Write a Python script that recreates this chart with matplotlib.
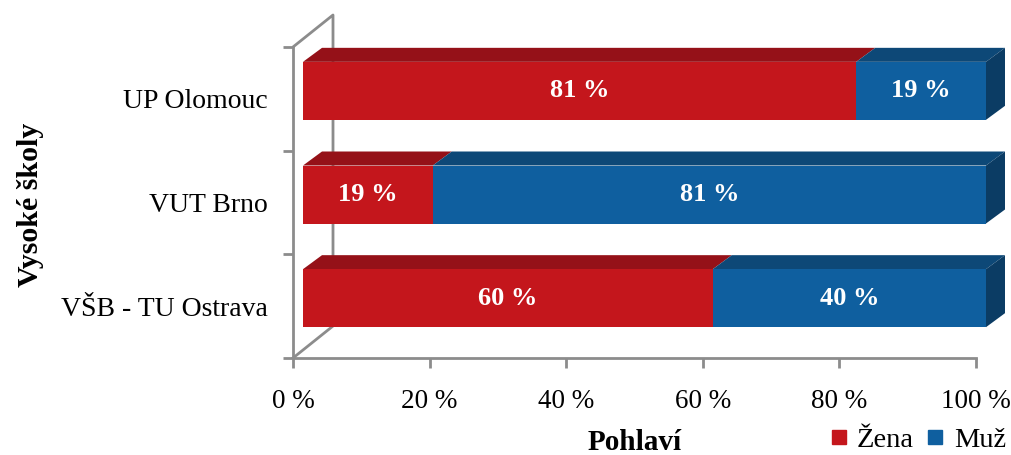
import matplotlib
matplotlib.use("Agg")
import matplotlib.pyplot as plt
from matplotlib.patches import Polygon
from matplotlib.lines import Line2D

plt.rcParams['font.family'] = ['Liberation Serif', 'DejaVu Serif']

# ---- data ----
categories = ["VŠB - TU Ostrava", "VUT Brno", "UP Olomouc"]
zena = [60, 19, 81]
muz = [40, 81, 19]
series_names = ["Žena", "Muž"]
x_ticks = [0, 20, 40, 60, 80, 100]
x_tick_labels = ["0 %", "20 %", "40 %", "60 %", "80 %", "100 %"]
bar_labels_zena = ["60 %", "19 %", "81 %"]
bar_labels_muz = ["40 %", "81 %", "19 %"]

# ---- styling ----
W, H = 1012, 455
red_front, red_top, red_side = "#C4161C", "#951118", "#7a0e14"
blue_front, blue_top, blue_side = "#0F5F9F", "#0D4877", "#0B3C64"
gray = "#8C8C8C"

fig = plt.figure(figsize=(W / 100, H / 100), dpi=100)
ax_l, ax_r, ax_t, ax_b = 293, 976, 47, 358
ax = fig.add_axes([ax_l / W, 1 - ax_b / H, (ax_r - ax_l) / W, (ax_b - ax_t) / H])
ax.set_xlim(0, 100)
ax.set_ylim(-0.5, len(categories) - 0.5)

pxx = (ax_r - ax_l) / 100.0
pxy = (ax_b - ax_t) / len(categories)

def dx(p):
    return p / pxx

def dy(p):
    return p / pxy

# depth offsets (pixels)
wall_dx, wall_dy = dx(40), dy(32)
bar_off_x, bar_off_y = dx(10), dy(8)
bar_dx, bar_dy = dx(19), dy(14)
bar_h = dy(58)

# back wall lines
ax.plot([0, wall_dx, wall_dx], [len(categories) - 0.5, len(categories) - 0.5 + wall_dy, -0.5 + wall_dy],
        color=gray, lw=2, clip_on=False, zorder=1, solid_capstyle='butt')
ax.plot([0, wall_dx], [-0.5, -0.5 + wall_dy], color=gray, lw=2, clip_on=False, zorder=1)

for i, cat in enumerate(categories):
    yc = i + bar_off_y
    bot, top = yc - bar_h / 2, yc + bar_h / 2
    segs = [(0, zena[i], red_front, red_top, red_side, bar_labels_zena[i]),
            (zena[i], muz[i], blue_front, blue_top, blue_side, bar_labels_muz[i])]
    for j, (left, w, cf, ct, cs, lab) in enumerate(segs):
        l = left + bar_off_x
        ax.barh(yc, w, left=l, height=bar_h, color=cf, edgecolor='none', zorder=3, clip_on=False)
        ax.add_patch(Polygon([(l, top), (l + w, top), (l + w + bar_dx, top + bar_dy), (l + bar_dx, top + bar_dy)],
                             closed=True, facecolor=ct, edgecolor='none', zorder=2, clip_on=False))
        if j == len(segs) - 1:
            r = l + w
            ax.add_patch(Polygon([(r, bot), (r, top), (r + bar_dx, top + bar_dy), (r + bar_dx, bot + bar_dy)],
                                 closed=True, facecolor=cs, edgecolor='none', zorder=2, clip_on=False))
        ax.text(l + w / 2, yc, lab, ha='center', va='center', color='white',
                fontsize=19, fontweight='bold', zorder=4)

# axes styling
for s in ['top', 'right']:
    ax.spines[s].set_visible(False)
for s in ['left', 'bottom']:
    ax.spines[s].set_color(gray)
    ax.spines[s].set_linewidth(2)
    ax.spines[s].set_zorder(1)
ax.set_facecolor('none')

ax.set_xticks(x_ticks)
ax.set_xticklabels(x_tick_labels, fontsize=19.5)
ax.tick_params(axis='x', direction='out', length=7, width=2, color=gray, pad=15)

ax.set_yticks(range(len(categories)))
ax.set_yticklabels(categories, fontsize=20, va='center_baseline')
ax.tick_params(axis='y', which='major', length=0, pad=18)
ax.set_yticks([k - 0.5 for k in range(len(categories) + 1)], minor=True)
ax.tick_params(axis='y', which='minor', direction='out', length=7, width=2, color=gray)

fig.text(635 / W, 1 - 443 / H, "Pohlaví", ha='center', va='center', fontsize=21, fontweight='bold')
fig.text(31 / W, 1 - 205 / H, "Vysoké školy", ha='center', va='center', fontsize=21.5,
         fontweight='bold', rotation=90)

handles = [Line2D([], [], marker='s', linestyle='none', markersize=10.5, color=red_front),
           Line2D([], [], marker='s', linestyle='none', markersize=10.5, color=blue_front)]
fig.legend(handles, series_names, loc='center right', bbox_to_anchor=(1006 / W, 1 - 440 / H), ncol=2,
           frameon=False, fontsize=20.5, handlelength=0.6, handletextpad=0.35, columnspacing=0.45,
           borderpad=0, borderaxespad=0)

fig.savefig("out.png", dpi=100)
